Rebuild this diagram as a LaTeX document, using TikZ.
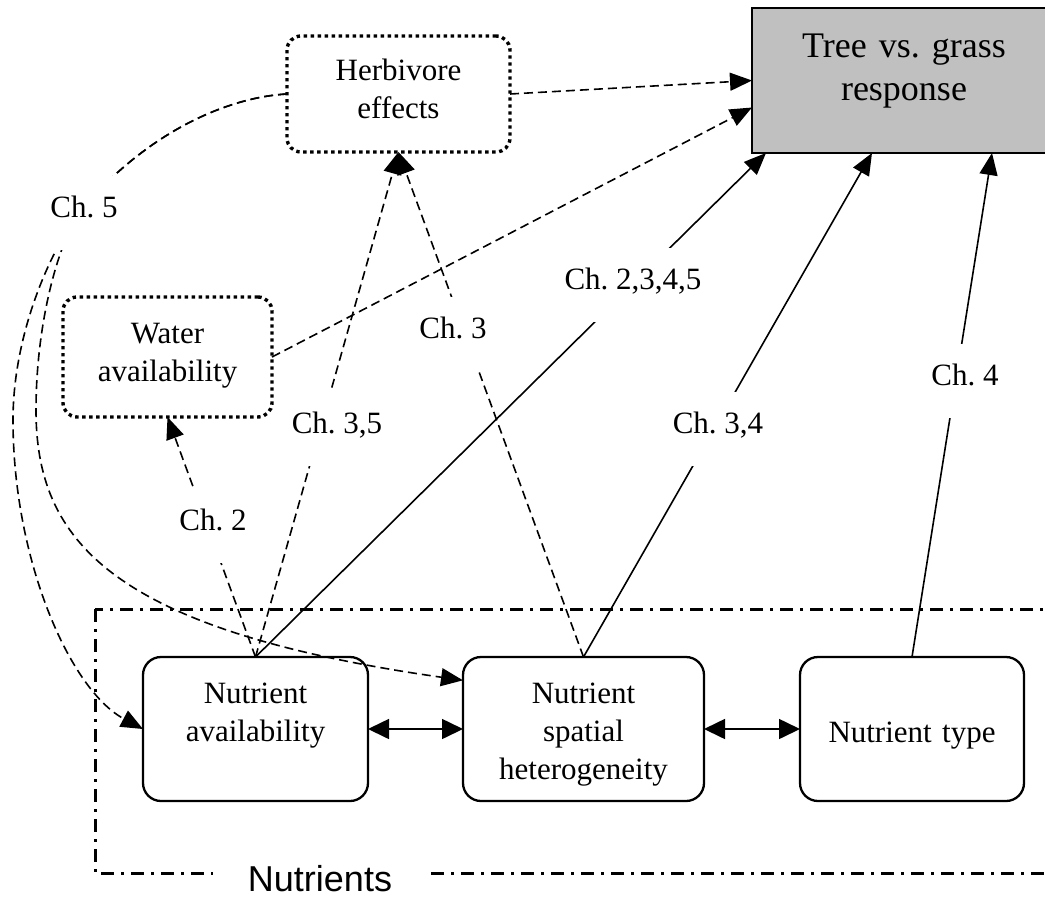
\documentclass[tikz,border=0pt]{standalone}
\usepackage{fontspec}
\setmainfont{Liberation Serif}
\newfontfamily\nutsans{Liberation Sans}
\usetikzlibrary{arrows.meta,calc}
\frenchspacing

\newlength{\du}
\setlength{\du}{1pt}

\newcommand{\boxfont}{\fontsize{31}{38}\selectfont}
\newcommand{\treefont}{\fontsize{36}{43}\selectfont}
\definecolor{treegrey}{RGB}{192,192,192}

\tikzset{
  nbox/.style={draw, line width=2.3\du, rounded corners=18\du, fill=white,
    align=center, inner sep=0pt, outer sep=0pt, font=\boxfont},
  dotbox/.style={nbox, rounded corners=14\du, line width=3.4\du,
    dash pattern=on 3.4\du off 3.6\du},
  treebox/.style={draw, line width=2.3\du, fill=treegrey, align=center,
    inner sep=0pt, outer sep=0pt, font=\treefont},
  nutframe/.style={line width=3\du, dash pattern=on 13\du off 7\du on 3\du off 7\du},
  nutlabel/.style={fill=white, font=\nutsans\fontsize{36}{40}\selectfont,
    inner xsep=35\du, inner ysep=4\du},
  chlabel/.style={fill=white, font=\boxfont, text height=19\du, text depth=11\du,
    inner xsep=8\du, inner ysep=22\du},
  conn/.style={line width=1.6\du},
  dconn/.style={conn, dash pattern=on 9\du off 5\du},
  arr/.style={-{Triangle[length=22pt,width=18pt]}},
  dbl/.style={arrows={Triangle[length=21pt,width=20pt]-Triangle[length=21pt,width=20pt]}}
}

\begin{document}
\begin{tikzpicture}[x=\du,y=-\du]
\useasboundingbox (0,0) rectangle (1045,898);

% nutrients frame
\draw[nutframe] (95,609) rectangle (1080,873);
\node[nutlabel] (nutlbl) at (320,879) {Nutrients};

% boxes
\node[dotbox, text width=223\du, text height=44\du, text depth=72\du] (herb) at (398.5,94) {Herbivore\\effects};
\node[dotbox, text width=209\du, text height=46\du, text depth=74\du] (water) at (167.5,357) {Water\\availability};
\node[treebox, text width=304\du, text height=49\du, text depth=96\du] (tree) at (904,80.5) {Tree vs. grass\\response};
\node[nbox, text width=225\du, text height=46\du, text depth=98\du] (na) at (255.5,729) {Nutrient\\availability};
\node[nbox, text width=241\du, text height=46\du, text depth=98\du] (nsh) at (583.5,729) {Nutrient\\spatial\\heterogeneity};
\node[nbox, text width=224\du, text height=85\du, text depth=59\du] (nt) at (912,729) {Nutrient type};

% links between nutrient boxes
\draw[conn,dbl] (na.east) -- (nsh.west);
\draw[conn,dbl] (nsh.east) -- (nt.west);

% solid links to the response
\draw[conn,arr] (na.north) -- ($(tree.south west)+(14,0)$);
\draw[conn,arr] (nsh.north) -- ($(tree.south)+(-32,0)$);
\draw[conn,arr] (nt.north) -- ($(tree.south)+(88,0)$);

% dashed links
\draw[dconn,arr] (na.north) -- (water.south);
\draw[dconn,arr] (na.north) -- (herb.south);
\draw[dconn,arr] (nsh.north) -- (herb.south);
\draw[dconn,arr] (herb.east) -- (tree.west);
\draw[dconn,arr] (water.east) -- ($(tree.west)+(0,27)$);

% herbivore curves (Ch. 5)
\coordinate (c5) at (84,207);
\draw[dconn,arr] (herb.west) .. controls (230,97) and (150,130) .. (c5)
  .. controls (54,242) and (13,330) .. (13,420)
  .. controls (13,560) and (70,690) .. (na.west);
\draw[dconn,arr] (herb.west) .. controls (230,97) and (150,130) .. (c5)
  .. controls (60,235) and (36,320) .. (36,410)
  .. controls (36,540) and (110,630) .. (nsh.158);

% chapter labels
\node[chlabel] (ch5) at (84,213) {Ch. 5};
\node[chlabel] (ch2) at (213,526) {Ch. 2};
\node[chlabel] (ch35) at (337,429) {Ch. 3,5};
\node[chlabel] (ch3) at (453,334) {Ch. 3};
\node[chlabel] (ch2345) at (633,285) {Ch. 2,3,4,5};
\node[chlabel] (ch34) at (718,429) {Ch. 3,4};
\node[chlabel] (ch4) at (965,381) {Ch. 4};
\end{tikzpicture}
\end{document}
